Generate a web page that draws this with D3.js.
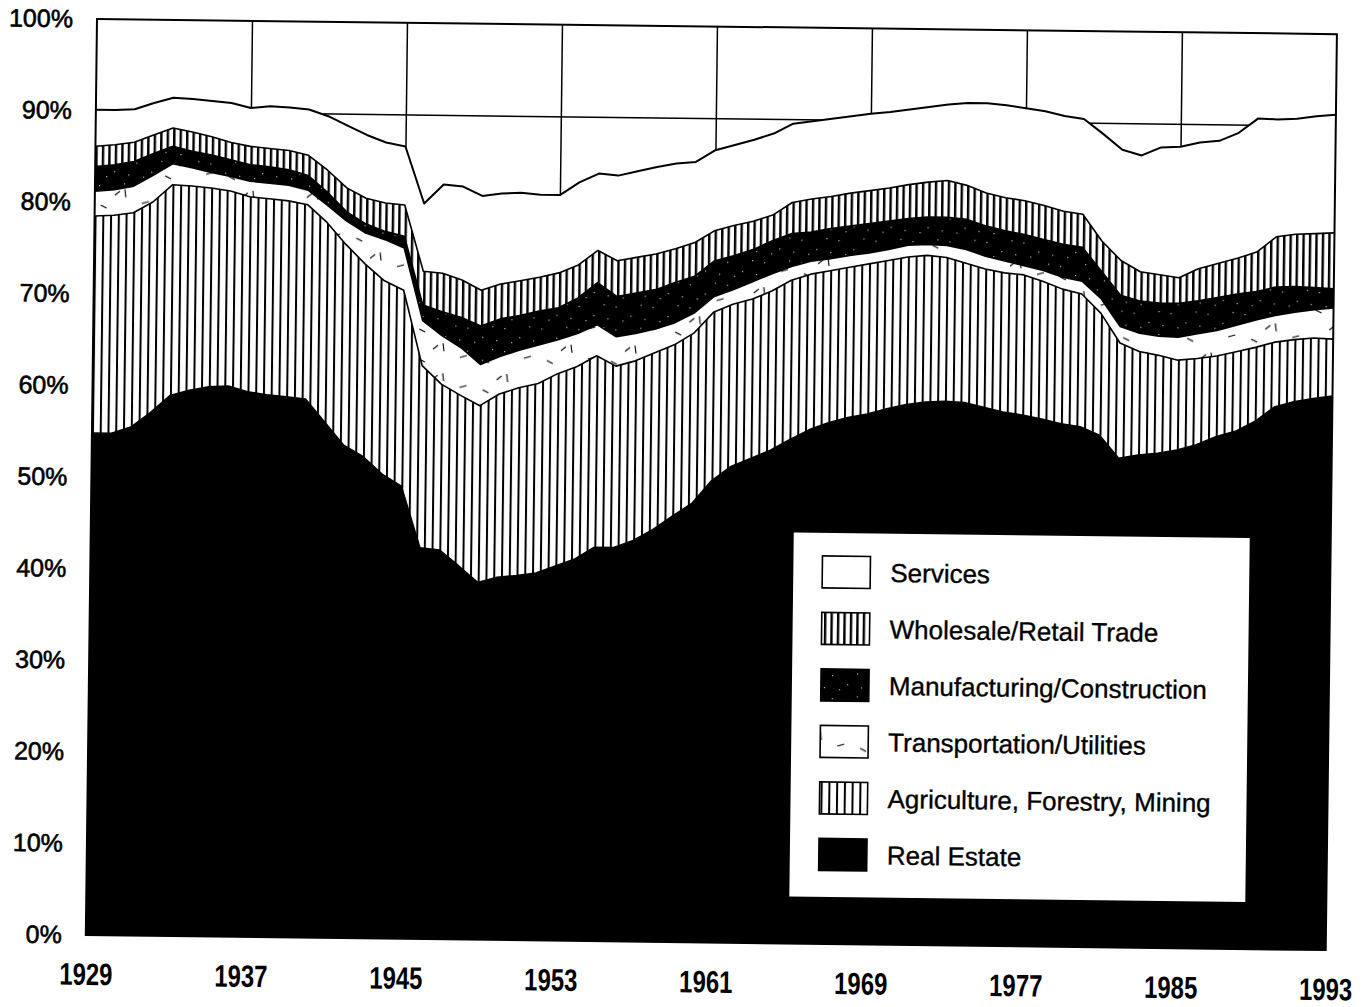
<!DOCTYPE html>
<html>
<head>
<meta charset="utf-8">
<script src="https://cdn.jsdelivr.net/npm/d3@7"></script>
<style>
  body { margin: 0; background: #fff; }
  svg { display: block; }
</style>
</head>
<body>
<svg id="chart" width="1370" height="1007"></svg>
<script>
// ---------------- DATA (percent of total) ----------------
const years = [1929,1930,1931,1932,1933,1934,1935,1936,1937,1938,1939,1940,1941,1942,1943,1944,
  1945,1946,1947,1948,1949,1950,1951,1952,1953,1954,1955,1956,1957,1958,1959,1960,1961,1962,
  1963,1964,1965,1966,1967,1968,1969,1970,1971,1972,1973,1974,1975,1976,1977,1978,1979,1980,
  1981,1982,1983,1984,1985,1986,1987,1988,1989,1990,1991,1992,1993];

const realEstate = [54.8,54.8,55.5,57.1,59.0,59.6,60.0,60.1,59.5,59.2,59.0,58.8,56.3,53.8,52.6,50.7,
  49.4,42.7,42.5,40.8,39.0,39.6,39.8,40.1,40.9,41.7,43.0,43.0,43.8,45.0,46.5,47.9,50.4,52.0,
  52.9,53.8,55.0,56.1,56.9,57.5,57.9,58.5,59.0,59.3,59.4,59.3,58.8,58.3,58.0,57.6,57.1,56.8,
  55.9,53.4,53.8,54.0,54.4,55.0,55.9,56.5,57.6,59.2,59.8,60.2,60.5];

const agriculture = [23.7,23.8,23.4,23.0,23.0,22.3,21.7,21.3,21.3,21.4,21.4,21.2,21.8,21.9,21.0,21.1,
  21.4,19.9,18.1,18.6,19.3,20.0,20.5,20.7,21.0,21.0,20.9,19.8,19.6,19.3,18.7,18.6,18.4,17.7,
  17.4,17.4,17.4,17.0,16.6,16.4,16.4,16.2,16.1,16.0,15.7,15.2,15.1,15.2,15.3,15.0,14.7,14.5,
  13.3,12.6,11.3,10.7,9.8,9.4,8.8,8.7,8.1,7.1,6.8,6.6,6.2];

const transportation = [2.7,2.8,2.9,2.9,2.3,2.0,1.7,1.6,1.7,1.7,1.7,1.6,1.9,2.6,3.4,4.5,
  4.6,4.9,5.3,5.2,4.5,4.1,4.1,4.2,3.7,3.6,3.4,3.2,3.0,2.6,2.4,2.2,1.7,1.6,
  1.9,1.9,1.5,1.4,1.3,1.3,1.2,1.2,1.3,1.2,1.3,1.5,1.4,1.3,1.0,1.2,1.3,1.4,
  1.6,1.8,2.0,2.1,2.5,2.7,2.8,2.9,3.0,2.9,3.0,3.1,3.4];

const manufacturing = [2.7,2.7,2.7,2.4,1.9,1.8,1.9,1.8,1.8,1.8,1.7,1.6,1.4,1.0,1.0,0.9,
  1.3,1.7,2.6,3.3,4.2,4.1,3.8,3.7,3.5,3.9,4.6,4.4,4.4,4.3,4.4,4.0,3.9,3.7,
  3.5,3.6,3.6,3.2,3.3,3.2,3.2,3.1,2.9,3.0,3.1,3.3,3.3,3.3,3.4,3.4,3.6,3.7,
  3.0,3.4,3.5,3.6,3.7,3.6,3.6,3.4,3.1,3.1,2.8,2.4,2.1];

const wholesale = [2.2,2.2,2.1,2.0,2.0,2.1,2.0,1.9,2.0,2.0,2.1,2.2,2.4,2.6,2.8,3.1,
  3.4,3.7,4.2,4.1,3.9,3.8,3.8,3.7,3.8,3.6,3.5,3.9,3.9,3.9,3.7,3.7,3.3,3.3,
  3.1,2.8,3.4,3.6,3.5,3.6,3.6,3.6,3.7,3.8,4.0,3.7,3.6,3.6,3.7,3.7,3.6,3.6,
  3.3,3.8,3.2,3.1,2.8,3.5,3.7,3.9,4.3,5.5,5.7,5.9,6.1];

const services = [4.0,3.8,3.6,3.5,3.3,3.6,3.9,4.3,4.2,4.6,4.7,5.0,5.9,6.8,6.9,6.6,
  6.4,7.4,9.7,10.2,10.3,9.9,9.6,9.0,8.5,9.0,8.4,9.3,9.4,9.5,9.3,8.8,8.8,8.8,
  8.9,8.9,8.6,8.5,8.5,8.4,8.4,8.3,8.2,8.2,8.3,9.0,9.8,10.1,10.1,10.3,10.4,10.4,
  11.7,12.1,12.7,13.9,14.3,13.8,13.4,13.7,14.6,12.8,12.6,12.8,12.9];

const seriesKeys = ["realEstate","agriculture","transportation","manufacturing","wholesale","services"];
const seriesLabels = {
  services: "Services",
  wholesale: "Wholesale/Retail Trade",
  manufacturing: "Manufacturing/Construction",
  transportation: "Transportation/Utilities",
  agriculture: "Agriculture, Forestry, Mining",
  realEstate: "Real Estate"
};
const legendOrder = ["services","wholesale","manufacturing","transportation","agriculture","realEstate"];
const yTicks = [0,10,20,30,40,50,60,70,80,90,100];
const xTicks = [1929,1937,1945,1953,1961,1969,1977,1985,1993];
const gridYears = [1937,1945,1953,1961,1969,1977,1985];
const gridPct = [10,20,30,40,50,60,70,80,90];

// ---------------- LAYOUT ----------------
const svg = d3.select("#chart");
const W = 1240, H = 916;
const FONT = "'Liberation Sans', Arial, Helvetica, sans-serif";
const g = svg.append("g").attr("transform", "translate(97,19) rotate(0.7)");

const x = d3.scaleLinear().domain([1929, 1993]).range([0, W]);
const y = d3.scaleLinear().domain([0, 100]).range([H, 0]);

const rows = years.map((yr, i) => ({
  year: yr,
  realEstate: realEstate[i], agriculture: agriculture[i], transportation: transportation[i],
  manufacturing: manufacturing[i], wholesale: wholesale[i], services: services[i]
}));
const stacked = d3.stack().keys(seriesKeys)(rows);

// ---------------- PATTERNS ----------------
const defs = svg.append("defs");
function hatch(id, w, lw) {
  const p = defs.append("pattern").attr("id", id).attr("patternUnits", "userSpaceOnUse")
    .attr("width", w).attr("height", 20);
  p.append("rect").attr("width", w).attr("height", 20).attr("fill", "#fff");
  p.append("rect").attr("x", 0).attr("width", lw).attr("height", 20).attr("fill", "#000");
}
hatch("agri", 7.75, 2.0);
hatch("whole", 6.46, 2.4);

const pm = defs.append("pattern").attr("id", "manu").attr("patternUnits", "userSpaceOnUse")
  .attr("width", 37).attr("height", 23);
pm.append("rect").attr("width", 37).attr("height", 23).attr("fill", "#000");
[[4,5],[19,14],[29,3],[11,19],[33,17]].forEach(([a,b]) =>
  pm.append("rect").attr("x", a).attr("y", b).attr("width", 1.2).attr("height", 1.2).attr("fill", "#bbb"));

const pt = defs.append("pattern").attr("id", "trans").attr("patternUnits", "userSpaceOnUse")
  .attr("width", 64).attr("height", 30);
pt.append("rect").attr("width", 64).attr("height", 30).attr("fill", "#fff");
[[6,6,12,9],[30,20,31,28],[47,4,54,2],[20,26,25,22]].forEach(([a,b,c,d]) =>
  pt.append("line").attr("x1", a).attr("y1", b).attr("x2", c).attr("y2", d)
    .attr("stroke", "#000").attr("stroke-width", 1.1));

const fills = {
  realEstate: "#000", agriculture: "url(#agri)", transportation: "url(#trans)",
  manufacturing: "url(#manu)", wholesale: "url(#whole)", services: "#fff"
};

// ---------------- GRID ----------------
g.append("g").attr("class", "grid-x")
  .call(d3.axisBottom(x).tickValues(gridYears).tickSize(H).tickFormat(""))
  .call(s => s.select(".domain").remove())
  .call(s => s.selectAll("line").attr("stroke", "#000").attr("stroke-width", 1.5));
g.append("g").attr("class", "grid-y")
  .call(d3.axisLeft(y).tickValues(gridPct).tickSize(-W).tickFormat(""))
  .call(s => s.select(".domain").remove())
  .call(s => s.selectAll("line").attr("stroke", "#000").attr("stroke-width", 1.5));

// ---------------- AREAS ----------------
const area = d3.area().x(d => x(d.data.year)).y0(d => y(d[0])).y1(d => y(d[1]));
const line = d3.line().x(d => x(d.data.year)).y(d => y(d[1]));

g.append("g").selectAll("path.area").data(stacked).join("path")
  .attr("class", "area").attr("d", area).attr("fill", d => fills[d.key]);
g.append("g").selectAll("path.edge").data(stacked).join("path")
  .attr("class", "edge").attr("d", line).attr("fill", "none")
  .attr("stroke", "#000").attr("stroke-width", d => d.key === "services" ? 2 : 1.6)
  .attr("stroke-linejoin", "round");

// frame
g.append("rect").attr("x", 0).attr("y", 0).attr("width", W).attr("height", H)
  .attr("fill", "none").attr("stroke", "#000").attr("stroke-width", 2);

// ---------------- LEGEND ----------------
const lg = g.append("g").attr("transform", "translate(702,504)");
lg.append("rect").attr("width", 458).attr("height", 366).attr("fill", "#fff")
  .attr("stroke", "#000").attr("stroke-width", 2);
legendOrder.forEach((k, i) => {
  const cy = 40 + i * 56.5;
  lg.append("rect").attr("x", 30).attr("y", cy - 16).attr("width", 48).attr("height", 32)
    .attr("fill", fills[k]).attr("stroke", "#000").attr("stroke-width", 1.6);
  lg.append("text").attr("x", 98).attr("y", cy).attr("dy", "0.36em")
    .attr("font-family", FONT).attr("font-size", 26).attr("fill", "#000")
    .attr("stroke", "#000").attr("stroke-width", 0.35).text(seriesLabels[k]);
});

// ---------------- AXES ----------------
g.append("g").attr("class", "y-axis")
  .call(d3.axisLeft(y).tickValues(yTicks).tickFormat(d => d + "%").tickSize(0).tickPadding(24))
  .call(s => s.select(".domain").remove())
  .call(s => s.selectAll("text")
    .attr("font-family", FONT).attr("font-size", 25).attr("fill", "#000")
    .attr("stroke", "#000").attr("stroke-width", 0.6));

g.append("g").attr("class", "x-axis").attr("transform", `translate(0,${H})`)
  .call(d3.axisBottom(x).tickValues(xTicks).tickFormat(d3.format("d")).tickSize(0))
  .call(s => s.select(".domain").remove())
  .call(s => s.selectAll("text")
    .attr("font-family", FONT).attr("font-size", 31).attr("font-weight", "bold").attr("fill", "#000")
    .attr("y", 50).attr("dy", null)
    .attr("transform", "scale(0.77,1)"));
</script>
</body>
</html>
